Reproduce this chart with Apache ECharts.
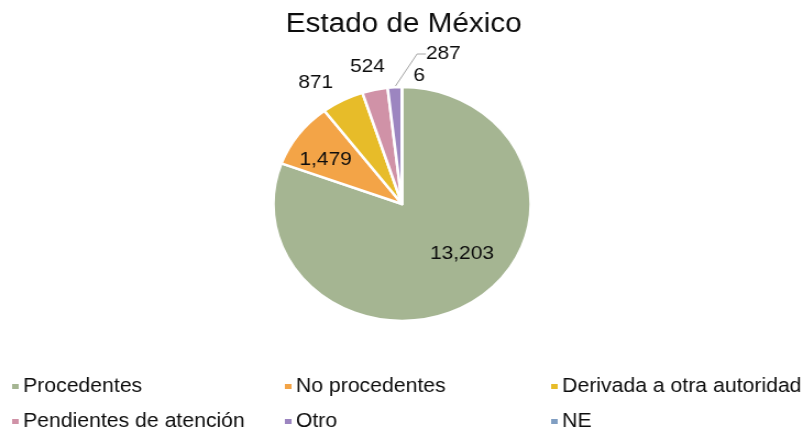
<!DOCTYPE html>
<html>
<head>
<meta charset="utf-8">
<script src="https://cdn.jsdelivr.net/npm/echarts@6/dist/echarts.min.js"></script>
<style>
  html, body { margin: 0; padding: 0; background: #fff; overflow: hidden; }
  #wrap { width: 807px; height: 429px; overflow: hidden; }
  /* the chart is drawn slightly narrower and widened horizontally */
  #chart { width: 734px; height: 429px; transform: scaleX(1.1); transform-origin: 0 0; }
</style>
</head>
<body>
<div id="wrap"><div id="chart"></div></div>
<script>
const titleText = 'Estado de México';
const categories = ['Procedentes', 'No procedentes', 'Derivada a otra autoridad', 'Pendientes de atención', 'Otro', 'NE'];
const values = [13203, 1479, 871, 524, 287, 6];
const colors = ['#A5B592', '#F3A447', '#E7BC29', '#D092A7', '#9C85C0', '#809EC2'];

// where each value label sits (chart coordinates before the horizontal stretch)
const labelSpots = [
  [420, 254], [296, 160], [287, 83], [334, 67], [403, 54], [381, 76]
];
const insideLabels = [true, true, false, false, false, false];

// legend grid: three columns, two rows
const legendLeft = [9, 257, 499];
const legendTop = [377, 412];

const font = '"Liberation Sans", Arial, sans-serif';
const fmt = v => v.toLocaleString('en-US');

const chart = echarts.init(document.getElementById('chart'), null, { renderer: 'canvas' });

const pieData = categories.map((name, i) => ({
  name,
  value: values[i],
  itemStyle: { color: colors[i] },
  label: { position: insideLabels[i] ? 'inside' : 'outside' },
  labelLine: { show: name === 'Otro', length: 10, length2: 8 }
}));

const legends = categories.map((name, i) => ({
  data: [name],
  left: legendLeft[i % 3],
  top: legendTop[Math.floor(i / 3)],
  padding: 0,
  itemWidth: 8,
  itemHeight: 7,
  icon: 'rect',
  selectedMode: false,
  textStyle: { fontFamily: font, fontSize: 19.3, color: '#0d0d0d', padding: [0, 0, 0, -2] }
}));

chart.setOption({
  animation: false,
  backgroundColor: '#fff',
  title: {
    text: titleText,
    left: 'center',
    top: 6,
    textStyle: { fontFamily: font, fontSize: 27, fontWeight: 'normal', color: '#0d0d0d' }
  },
  legend: legends,
  series: [{
    type: 'pie',
    center: [365.5, 204],
    radius: 117,
    startAngle: 90,
    clockwise: true,
    avoidLabelOverlap: false,
    itemStyle: { borderColor: '#fff', borderWidth: 2.5 },
    label: {
      fontFamily: font,
      fontSize: 19,
      color: '#0d0d0d',
      formatter: p => fmt(p.value)
    },
    labelLine: { lineStyle: { color: '#A6A6A6', width: 1 } },
    labelLayout: p => {
      const s = labelSpots[p.dataIndex];
      return { x: s[0], y: s[1], align: 'center', verticalAlign: 'middle' };
    },
    emphasis: { disabled: true },
    data: pieData
  }]
});
</script>
</body>
</html>
